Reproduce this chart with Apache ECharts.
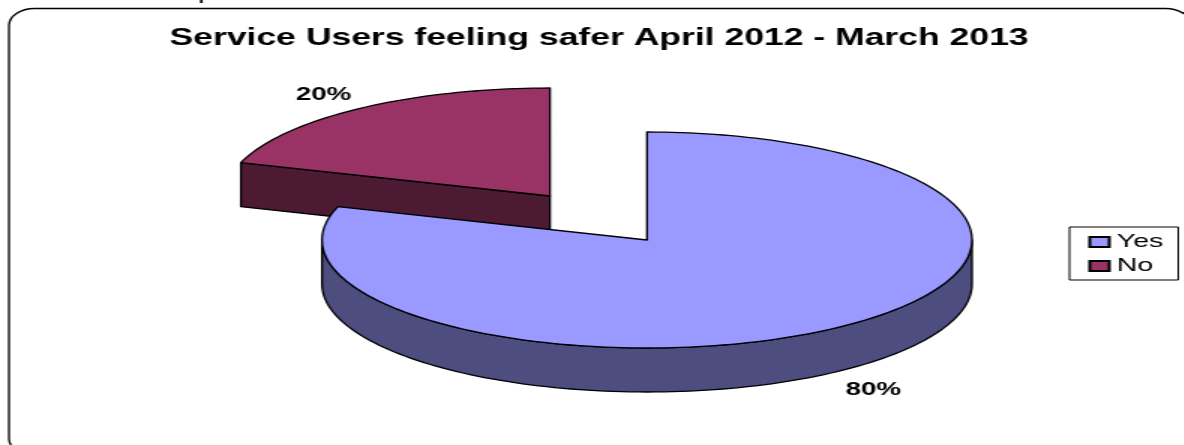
<!DOCTYPE html>
<html>
<head>
<meta charset="utf-8">
<style>
html,body{margin:0;padding:0;background:#fff;overflow:hidden;width:1184px;height:445px}
#c{width:789.33px;height:445px;transform:scaleX(1.5);transform-origin:0 0}
</style>
<script src="https://cdn.jsdelivr.net/npm/echarts@6/dist/echarts.min.js"></script>
</head>
<body>
<div id="c"></div>
<script>
const categories = ['Yes', 'No'];
const seriesValues = [80, 20];
const valueLabels = ['80%', '20%'];
const titleText = 'Service Users feeling safer April 2012 - March 2013';

const S = 1.5;                       // the whole picture is stretched horizontally
const topColors = ['#9999FF', '#993366'];
const sideColors = ['#4D4D80', '#4D1A33'];
const centers = [[647 / S, 240], [550 / S, 196]];
const RX = 325 / S, RY = 108, DEPTH = 44;
const total = seriesValues.reduce((a, b) => a + b, 0);
const FONT = '"Liberation Sans", Arial, sans-serif';

function sliceAngles(i) {
  let before = 0;
  for (let k = 0; k < i; k++) before += seriesValues[k];
  return [before / total * 360, (before + seriesValues[i]) / total * 360];
}
function rad(d) { return d * Math.PI / 180; }
function arcPoints(cx, cy, a, b) {
  const pts = [], n = Math.max(2, Math.ceil((b - a) / 1.5));
  for (let j = 0; j <= n; j++) {
    const t = rad(a + (b - a) * j / n);
    pts.push([cx + RX * Math.sin(t), cy - RY * Math.cos(t)]);
  }
  return pts;
}
function drop(pts) { return pts.map(p => [p[0], p[1] + DEPTH]); }
const edge = { stroke: '#000', lineWidth: 1.3, lineJoin: 'round' };

function renderSlice(i) {
  return function () {
    const [a, b] = sliceAngles(i);
    const [cx, cy] = centers[i];
    const side = Object.assign({ fill: sideColors[i] }, edge);
    const top = Object.assign({ fill: topColors[i] }, edge);
    const children = [];
    // radial walls facing the viewer
    [[a, -Math.sin(rad(a))], [b, Math.sin(rad(b))]].forEach(([ang, facing]) => {
      if (facing > 1e-6) {
        const p = arcPoints(cx, cy, ang, ang)[0];
        const quad = [[cx, cy], p, [p[0], p[1] + DEPTH], [cx, cy + DEPTH]];
        children.push({ type: 'polygon', shape: { points: quad }, style: side });
      }
    });
    // outer curved wall (front half only)
    const fa = Math.max(a, 90), fb = Math.min(b, 270);
    if (fb > fa) {
      const arc = arcPoints(cx, cy, fa, fb);
      children.push({ type: 'polygon', shape: { points: arc.concat(drop(arc).reverse()) }, style: side });
    }
    // top face
    children.push({
      type: 'polygon',
      shape: { points: [[cx, cy]].concat(arcPoints(cx, cy, a, b)) },
      style: top
    });
    // value label outside the mid-angle
    const mid = rad((a + b) / 2);
    const low = Math.cos(mid) < 0 ? DEPTH : 0;
    children.push({
      type: 'text',
      style: {
        x: cx + (RX + 40) * Math.sin(mid),
        y: cy + low - (RY + 20) * Math.cos(mid) + 2,
        text: valueLabels[i],
        fill: '#000',
        font: 'bold 18.5px ' + FONT,
        align: 'center',
        verticalAlign: 'middle'
      }
    });
    return { type: 'group', children };
  };
}

const chart = echarts.init(document.getElementById('c'), null, { renderer: 'canvas' });
chart.setOption({
  animation: false,
  backgroundColor: '#fff',
  title: {
    text: titleText,
    left: 113,
    top: 26,
    padding: 0,
    textStyle: { color: '#000', fontFamily: FONT, fontWeight: 'bold', fontSize: 23.7 }
  },
  legend: {
    data: categories,
    orient: 'vertical',
    left: 713,
    top: 227,
    icon: 'rect',
    itemWidth: 13,
    itemHeight: 10,
    itemGap: 4,
    padding: [5, 10, 4, 12.5],
    borderColor: '#000',
    borderWidth: 1,
    backgroundColor: '#fff',
    selectedMode: false,
    textStyle: { color: '#000', fontFamily: FONT, fontSize: 19, lineHeight: 20 }
  },
  graphic: [
    { type: 'rect', z: -1, shape: { x: 6, y: 8.5, width: 788, height: 447, r: 17 },
      style: { fill: 'none', stroke: '#000', lineWidth: 1.3 } },
    { type: 'text', z: -1, style: { x: 132, y: 3, text: 'p', fill: '#000',
      font: '20px ' + FONT, verticalAlign: 'bottom' } }
  ],
  series: [1, 0].map(i => ({
    type: 'custom',
    name: categories[i],
    coordinateSystem: 'none',
    silent: true,
    itemStyle: { color: topColors[i], borderColor: '#000', borderWidth: 1 },
    data: [seriesValues[i]],
    renderItem: renderSlice(i)
  }))
});
</script>
</body>
</html>
